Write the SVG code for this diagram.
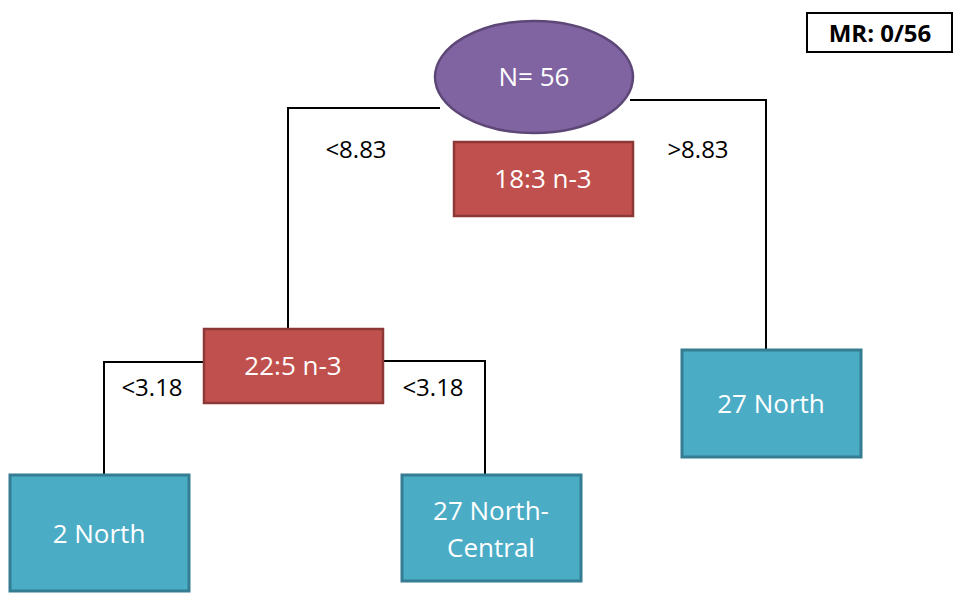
<svg xmlns="http://www.w3.org/2000/svg" width="954" height="593" viewBox="0 0 954 593">
<style>
.red{fill:#C0504D;stroke:#8C3836;stroke-width:2.5}
.teal{fill:#4BACC6;stroke:#357D91;stroke-width:3}
.purple{fill:#8064A2;stroke:#5C4776;stroke-width:2.5}
.nt{font-family:"Open Sans","Liberation Sans",sans-serif;font-size:26px;fill:#ffffff;text-anchor:middle}
.lb{font-family:"Open Sans","Liberation Sans",sans-serif;font-size:24px;fill:#000000;text-anchor:middle}
.conn{fill:none;stroke:#000;stroke-width:2}
</style>
<rect width="954" height="593" fill="#ffffff"/>
<g id="connectors">
<polyline class="conn" points="440,108 288,108 288,330"/>
<polyline class="conn" points="630,100 766,100 766,350"/>
<polyline class="conn" points="205,362 104,362 104,475"/>
<polyline class="conn" points="382,361 485,361 485,475"/>
</g>
<g id="labels">
<text class="lb" x="356" y="158">&lt;8.83</text>
<text class="lb" x="698" y="158">&gt;8.83</text>
<text class="lb" x="152" y="396">&lt;3.18</text>
<text class="lb" x="433" y="396">&lt;3.18</text>
</g>
<g id="root">
<ellipse class="purple" cx="534" cy="77" rx="99" ry="56"/>
<text class="nt" x="534" y="86">N= 56</text>
</g>
<g id="n183">
<rect class="red" x="454" y="142" width="179" height="74"/>
<text class="nt" x="543" y="188">18:3 n-3</text>
</g>
<g id="n225">
<rect class="red" x="204" y="329" width="179" height="74"/>
<text class="nt" x="293" y="375">22:5 n-3</text>
</g>
<g id="north2">
<rect class="teal" x="10" y="475" width="179" height="116"/>
<text class="nt" x="99" y="543">2 North</text>
</g>
<g id="northcentral27">
<rect class="teal" x="402" y="475" width="179" height="106"/>
<text class="nt" x="491" y="520">27 North-</text>
<text class="nt" x="491" y="557">Central</text>
</g>
<g id="north27">
<rect class="teal" x="682" y="350" width="179" height="107"/>
<text class="nt" x="771" y="413">27 North</text>
</g>
<g id="mr">
<rect x="807" y="13" width="145" height="39" fill="#fff" stroke="#000" stroke-width="2"/>
<text x="880" y="42" font-family="Open Sans, Liberation Sans, sans-serif" font-size="24" font-weight="bold" text-anchor="middle" fill="#000">MR: 0/56</text>
</g>
</svg>
